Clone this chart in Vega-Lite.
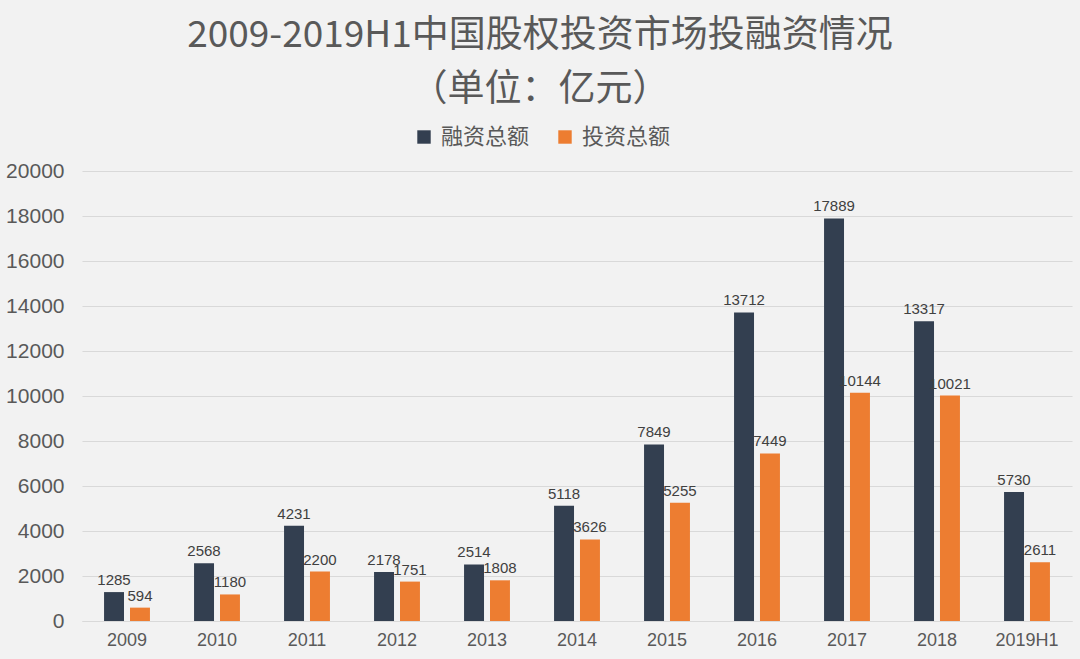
{
  "$schema": "https://vega.github.io/schema/vega-lite/v6.json",
  "width": 990,
  "height": 450,
  "autosize": {"type": "none"},
  "padding": {"left": 82, "top": 171, "right": 8, "bottom": 38},
  "background": "#f2f2f2",
  "config": {
    "view": {"stroke": null},
    "font": "Liberation Sans"
  },
  "title": {
    "text": ["2009-2019H1中国股权投资市场投融资情况", "（单位：亿元）"],
    "font": "Noto Sans CJK SC",
    "fontSize": 37,
    "fontWeight": "normal",
    "color": "#595959",
    "lineHeight": 54,
    "anchor": "middle",
    "dx": -37,
    "offset": 17
  },
  "data": {
    "values": [
      {"year": "2009", "type": "融资总额", "value": 1285},
      {"year": "2009", "type": "投资总额", "value": 594},
      {"year": "2010", "type": "融资总额", "value": 2568},
      {"year": "2010", "type": "投资总额", "value": 1180},
      {"year": "2011", "type": "融资总额", "value": 4231},
      {"year": "2011", "type": "投资总额", "value": 2200},
      {"year": "2012", "type": "融资总额", "value": 2178},
      {"year": "2012", "type": "投资总额", "value": 1751},
      {"year": "2013", "type": "融资总额", "value": 2514},
      {"year": "2013", "type": "投资总额", "value": 1808},
      {"year": "2014", "type": "融资总额", "value": 5118},
      {"year": "2014", "type": "投资总额", "value": 3626},
      {"year": "2015", "type": "融资总额", "value": 7849},
      {"year": "2015", "type": "投资总额", "value": 5255},
      {"year": "2016", "type": "融资总额", "value": 13712},
      {"year": "2016", "type": "投资总额", "value": 7449},
      {"year": "2017", "type": "融资总额", "value": 17889},
      {"year": "2017", "type": "投资总额", "value": 10144},
      {"year": "2018", "type": "融资总额", "value": 13317},
      {"year": "2018", "type": "投资总额", "value": 10021},
      {"year": "2019H1", "type": "融资总额", "value": 5730},
      {"year": "2019H1", "type": "投资总额", "value": 2611}
    ]
  },
  "encoding": {
    "x": {
      "field": "year",
      "type": "nominal",
      "sort": null,
      "title": null,
      "scale": {"paddingInner": 0.49, "paddingOuter": 0.245},
      "axis": {
        "labelAngle": 0,
        "labelFontSize": 18,
        "labelColor": "#595959",
        "labelPadding": 10,
        "ticks": false,
        "domain": true,
        "domainColor": "#d9d9d9"
      }
    },
    "xOffset": {
      "field": "type",
      "type": "nominal",
      "sort": ["融资总额", "投资总额"],
      "scale": {"paddingInner": 0.23, "paddingOuter": 0}
    },
    "y": {
      "field": "value",
      "type": "quantitative",
      "title": null,
      "scale": {"domain": [0, 20000], "nice": false},
      "axis": {
        "values": [0, 2000, 4000, 6000, 8000, 10000, 12000, 14000, 16000, 18000, 20000],
        "format": "d",
        "labelFontSize": 21,
        "labelColor": "#595959",
        "labelPadding": 18,
        "ticks": false,
        "domain": false,
        "gridColor": "#d9d9d9",
        "gridWidth": 1
      }
    },
    "color": {
      "field": "type",
      "type": "nominal",
      "sort": ["融资总额", "投资总额"],
      "scale": {"domain": ["融资总额", "投资总额"], "range": ["#333f50", "#ed7d31"]},
      "legend": {
        "title": null,
        "orient": "none",
        "direction": "horizontal",
        "legendX": 331,
        "legendY": -45,
        "symbolType": "square",
        "symbolSize": 180,
        "symbolStrokeWidth": 0,
        "labelFont": "Noto Sans CJK SC",
        "labelFontSize": 22,
        "labelColor": "#595959",
        "columnPadding": 24,
        "labelOffset": 6
      }
    }
  },
  "layer": [
    {"mark": {"type": "bar"}},
    {
      "mark": {"type": "text", "dy": -4, "fontSize": 15, "color": "#404040", "baseline": "bottom"},
      "encoding": {
        "text": {"field": "value", "type": "quantitative", "format": "d"},
        "color": {"value": "#404040"}
      }
    }
  ]
}
